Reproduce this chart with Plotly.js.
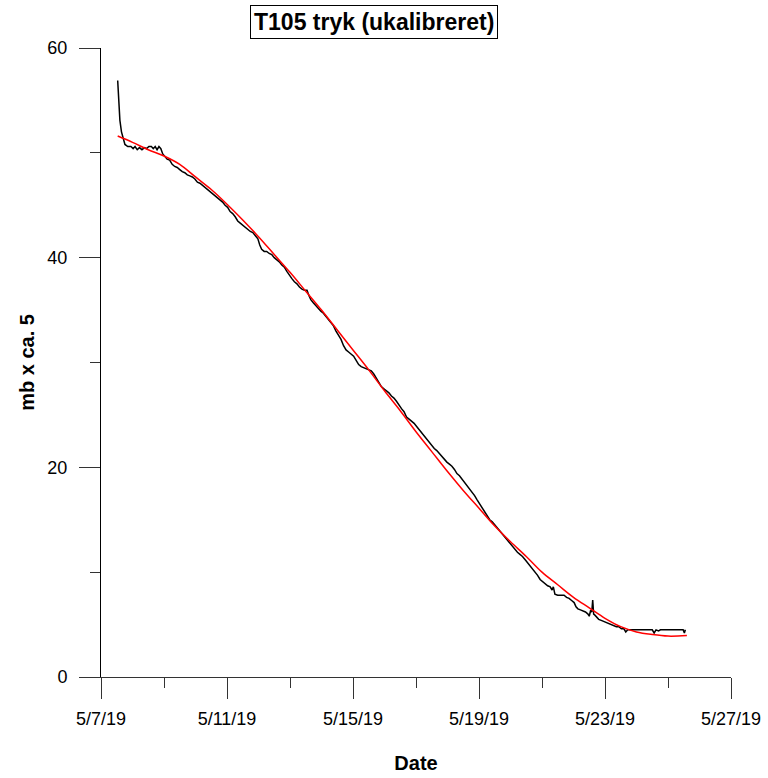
<!DOCTYPE html>
<html>
<head>
<meta charset="utf-8">
<script src="https://cdn.plot.ly/plotly-3.0.1.min.js"></script>
<style>html,body{margin:0;padding:0;background:#fff}#chart{width:768px;height:778px}</style>
</head>
<body>
<div id="chart"></div>
<script>
// Days after 2019-05-07 00:00 for the measured (black) series
var measuredDays = [0.53,0.56,0.60,0.65,0.71,0.76,0.85,0.95,1.02,1.08,1.15,1.22,1.30,1.38,1.45,1.52,1.60,1.66,1.72,1.78,1.84,1.90,1.96,2.03,2.10,2.18,2.26,2.34,2.42,2.50,2.58,2.66,2.74,2.82,2.90,2.98,3.06,3.14,3.22,3.30,3.38,3.46,3.54,3.62,3.70,3.78,3.86,3.94,4.02,4.10,4.18,4.26,4.34,4.42,4.50,4.58,4.66,4.74,4.82,4.90,4.98,5.04,5.10,5.18,5.26,5.34,5.42,5.50,5.58,5.66,5.74,5.82,5.90,5.98,6.06,6.14,6.22,6.30,6.38,6.46,6.54,6.60,6.66,6.74,6.82,6.90,6.98,7.06,7.14,7.22,7.30,7.38,7.46,7.54,7.62,7.70,7.78,7.86,7.94,8.02,8.10,8.18,8.26,8.34,8.42,8.50,8.58,8.66,8.74,8.82,8.90,8.98,9.06,9.14,9.22,9.30,9.38,9.46,9.54,9.62,9.70,9.78,9.86,9.94,10.02,10.10,10.18,10.26,10.34,10.42,10.50,10.58,10.66,10.74,10.82,10.90,10.98,11.06,11.14,11.22,11.30,11.38,11.46,11.54,11.62,11.70,11.78,11.86,11.94,12.02,12.10,12.18,12.26,12.34,12.42,12.50,12.58,12.66,12.74,12.82,12.90,12.98,13.06,13.14,13.22,13.30,13.38,13.46,13.54,13.62,13.70,13.78,13.86,13.94,14.02,14.10,14.18,14.26,14.32,14.36,14.41,14.50,14.60,14.70,14.78,14.86,14.94,15.02,15.08,15.14,15.22,15.30,15.38,15.46,15.50,15.54,15.58,15.61,15.64,15.68,15.74,15.80,15.88,15.96,16.04,16.12,16.20,16.28,16.36,16.44,16.52,16.60,16.66,16.72,16.80,16.90,17.00,17.10,17.20,17.30,17.40,17.50,17.56,17.62,17.70,17.76,17.90,18.00,18.10,18.20,18.30,18.40,18.48,18.52,18.55];
var measuredValues = [56.9,55.0,53.1,52.0,51.3,50.8,50.6,50.6,50.4,50.6,50.3,50.5,50.3,50.5,50.4,50.6,50.6,50.4,50.6,50.3,50.6,50.4,49.9,49.7,49.4,49.3,48.9,48.7,48.6,48.4,48.2,48.1,47.9,47.8,47.7,47.5,47.2,47.1,46.9,46.7,46.5,46.3,46.1,45.9,45.7,45.5,45.3,45.0,44.8,44.4,44.2,43.9,43.5,43.3,43.1,42.9,42.7,42.5,42.4,42.1,41.8,41.2,40.8,40.6,40.6,40.4,40.3,40.0,39.8,39.6,39.3,39.1,38.7,38.3,38.0,37.7,37.5,37.2,37.0,36.9,36.9,36.4,36.0,35.7,35.4,35.1,34.9,34.7,34.4,34.2,33.9,33.5,33.0,32.6,32.2,31.6,31.2,31.0,30.8,30.6,30.2,29.8,29.6,29.5,29.4,29.3,29.2,28.9,28.5,28.1,27.7,27.5,27.3,27.1,26.8,26.6,26.3,25.9,25.6,25.3,24.8,24.6,24.4,24.2,23.9,23.6,23.2,22.9,22.6,22.3,22.1,21.8,21.6,21.3,21.0,20.7,20.5,20.3,20.1,19.8,19.4,19.2,18.9,18.6,18.3,18.0,17.7,17.3,16.9,16.5,16.1,15.7,15.3,15.0,14.8,14.5,14.3,14.0,13.6,13.3,13.1,12.8,12.4,12.2,11.9,11.7,11.5,11.2,10.9,10.7,10.4,10.1,9.7,9.3,9.1,8.9,8.7,8.6,8.3,8.6,7.9,7.8,7.8,7.8,7.6,7.5,7.3,7.1,6.7,6.5,6.4,6.3,6.2,6.0,5.8,6.3,6.2,7.35,6.0,5.9,5.7,5.5,5.4,5.3,5.2,5.1,5.0,4.9,4.8,4.8,4.6,4.6,4.3,4.5,4.5,4.5,4.5,4.5,4.5,4.5,4.5,4.5,4.2,4.5,4.4,4.5,4.5,4.5,4.5,4.5,4.5,4.5,4.5,4.2,4.5];

// Fitted (red) curve
var fitDays = [0.53,1.0,1.5,2.0,2.5,3.0,3.5,4.0,4.5,5.0,5.5,6.0,6.5,7.0,7.5,8.0,8.5,9.0,9.5,10.0,10.5,11.0,11.5,12.0,12.5,13.0,13.5,14.0,14.5,15.0,15.5,16.0,16.5,17.0,17.5,18.0,18.6];
var fitValues = [51.6,51.0,50.3,49.7,48.9,47.7,46.5,45.1,43.6,42.0,40.3,38.6,36.8,35.0,33.1,31.2,29.3,27.3,25.4,23.4,21.5,19.6,17.8,16.1,14.4,12.9,11.5,10.0,8.8,7.6,6.6,5.6,4.8,4.3,4.05,3.9,3.95];

var startDate = Date.UTC(2019, 4, 7);
var xRange = ['2019-05-07', '2019-05-27'];
var yRange = [0, 60];
var titleText = 'T105 tryk (ukalibreret)';
var xTitle = 'Date';
var yTitle = 'mb x ca. 5';

function toDate(d) {
  return new Date(startDate + d * 86400000).toISOString().slice(0, 19).replace('T', ' ');
}

var FONT = 'Liberation Sans, Arial, sans-serif';
var DAY = 86400000;

var traces = [
  {x: measuredDays.map(toDate), y: measuredValues, type: 'scatter', mode: 'lines',
   line: {color: '#000000', width: 1.5}, hoverinfo: 'skip', showlegend: false},
  {x: fitDays.map(toDate), y: fitValues, type: 'scatter', mode: 'lines',
   line: {color: '#ff0000', width: 1.5, shape: 'spline'}, hoverinfo: 'skip', showlegend: false}
];

var layout = {
  width: 768, height: 778,
  margin: {l: 101, r: 37, t: 48, b: 101, pad: 0},
  paper_bgcolor: '#ffffff', plot_bgcolor: '#ffffff',
  font: {family: FONT, size: 18, color: '#000000'},
  showlegend: false,
  xaxis: {
    type: 'date', range: xRange, autorange: false,
    tick0: '2019-05-07', dtick: 4 * DAY, tickformat: '%-m/%-d/%y',
    ticks: 'outside', ticklen: 21, tickwidth: 1, tickcolor: '#333333',
    showline: true, linecolor: '#333333', linewidth: 1,
    showgrid: false, zeroline: false,
    tickfont: {family: FONT, size: 18, color: '#000000'},
    ticklabelstandoff: 4,
    minor: {tick0: '2019-05-07', dtick: 2 * DAY, ticks: 'outside', ticklen: 10, tickwidth: 1, tickcolor: '#333333', showgrid: false},
    title: {text: xTitle, font: {family: FONT, size: 20, weight: 'bold', color: '#000000'}, standoff: 28}
  },
  yaxis: {
    range: yRange, autorange: false,
    tick0: 0, dtick: 20,
    ticks: 'outside', ticklen: 21, tickwidth: 1, tickcolor: '#333333',
    showline: true, linecolor: '#000000', linewidth: 1,
    showgrid: false, zeroline: false,
    tickfont: {family: FONT, size: 18, color: '#000000'},
    ticklabelstandoff: 8,
    minor: {tick0: 0, dtick: 10, ticks: 'outside', ticklen: 10, tickwidth: 1, tickcolor: '#333333', showgrid: false},
    title: {text: yTitle, font: {family: FONT, size: 20, weight: 'bold', color: '#000000'}, standoff: 7}
  },
  annotations: [{
    text: titleText, xref: 'paper', yref: 'paper', x: 0.433, y: 1.041,
    xanchor: 'center', yanchor: 'middle', showarrow: false,
    font: {family: FONT, size: 23, weight: 'bold', color: '#000000'},
    bordercolor: '#000000', borderwidth: 1, borderpad: 3, bgcolor: '#ffffff'
  }]
};

Plotly.newPlot('chart', traces, layout, {staticPlot: true, displayModeBar: false});
</script>
</body>
</html>
